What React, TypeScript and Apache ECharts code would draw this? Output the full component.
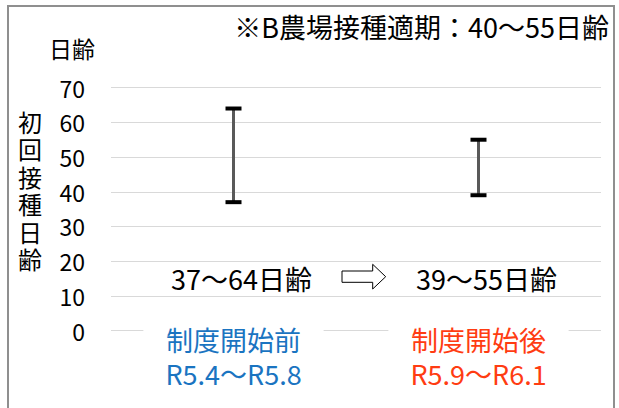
import React, { useEffect, useRef } from "react";
import * as echarts from "echarts";

// Periods compared on the x axis
const categories = ["制度開始前", "制度開始後"];
const periods = ["R5.4～R5.8", "R5.9～R6.1"];
const categoryColors = ["#1a74c1", "#ff3c12"];

// Range of first vaccination age (days) per period
const lowDays = [37, 39];
const highDays = [64, 55];

// Y axis scale
const yMin = 0;
const yMax = 70;
const yInterval = 10;

const titleText = "※B農場接種適期：40～55日齢";
const yAxisUnit = "日齢";
const yAxisTitle = "初回接種日齢";

const FONT = '"Noto Sans CJK JP", "Noto Sans", sans-serif';

export default function App() {
  const ref = useRef<HTMLDivElement>(null);

  useEffect(() => {
    document.body.style.margin = "0";
    if (!ref.current) return;
    const chart = echarts.init(ref.current, undefined, { renderer: "svg" });

    const rich: Record<string, any> = {};
    categoryColors.forEach((c, i) => {
      rich["c" + i] = { color: c, fontSize: 27, lineHeight: 34, fontFamily: FONT };
    });

    // vertical axis title, one glyph per line
    const titleChars = yAxisTitle.split("").map((ch, k) => ({
      type: "text",
      x: 30,
      y: 121 + k * 27.5,
      style: {
        text: ch,
        fontSize: 24,
        fill: "#000",
        align: "center",
        verticalAlign: "middle",
        fontFamily: FONT,
      },
    }));

    chart.setOption({
      animation: false,
      backgroundColor: "#ffffff",
      textStyle: { fontFamily: FONT },
      title: {
        text: titleText,
        right: 5,
        top: 8,
        textStyle: { fontSize: 27, fontWeight: "normal", color: "#000", fontFamily: FONT },
      },
      grid: { left: 111, right: 18, top: 87.7, bottom: 77.5, containLabel: false },
      xAxis: {
        type: "category",
        data: categories,
        z: 5,
        axisLine: { show: false },
        axisTick: { show: false },
        splitLine: { show: false },
        axisLabel: {
          margin: -8,
          interval: 0,
          backgroundColor: "#ffffff",
          padding: [0, 22],
          formatter: (value: string, index: number) =>
            `{c${index}|${value}}\n{c${index}|${periods[index]}}`,
          rich,
        },
      },
      yAxis: {
        type: "value",
        min: yMin,
        max: yMax,
        interval: yInterval,
        z: 0,
        name: yAxisUnit,
        nameLocation: "end",
        nameGap: 28,
        nameTextStyle: {
          fontSize: 23,
          color: "#000",
          align: "right",
          padding: [0, 16, 0, 0],
          fontFamily: FONT,
        },
        axisLine: { show: false },
        axisTick: { show: false },
        axisLabel: { fontSize: 23, color: "#000", margin: 26, fontFamily: FONT },
        splitLine: { lineStyle: { color: "#d9d9d9", width: 1 } },
      },
      graphic: [
        {
          type: "rect",
          z: -10,
          shape: { x: 8, y: 6, width: 606, height: 420 },
          style: { fill: "none", stroke: "#8f8f8f", lineWidth: 2 },
        },
        ...titleChars,
        {
          // hollow arrow between the two ranges
          type: "polygon",
          shape: {
            points: [
              [342, 271],
              [372.7, 271],
              [372.7, 264.3],
              [385.7, 276.7],
              [372.7, 289],
              [372.7, 282.3],
              [342, 282.3],
            ],
          },
          style: { fill: "#fff", stroke: "#000", lineWidth: 1 },
        },
      ],
      series: [
        {
          type: "custom",
          data: categories.map((_, i) => [i, lowDays[i], highDays[i]]),
          encode: { x: 0, y: [1, 2] },
          renderItem: (params: any, api: any) => {
            const i = api.value(0);
            const lo = api.value(1);
            const hi = api.value(2);
            const pLo = api.coord([i, lo]);
            const pHi = api.coord([i, hi]);
            const pBase = api.coord([i, 0]);
            const capW = 16;
            const capH = 4;
            return {
              type: "group",
              children: [
                {
                  type: "line",
                  shape: { x1: pLo[0], y1: pLo[1], x2: pHi[0], y2: pHi[1] },
                  style: { stroke: "#595959", lineWidth: 3 },
                },
                {
                  type: "rect",
                  shape: { x: pHi[0] - capW / 2, y: pHi[1] - capH / 2, width: capW, height: capH },
                  style: { fill: "#000" },
                },
                {
                  type: "rect",
                  shape: { x: pLo[0] - capW / 2, y: pLo[1] - capH / 2, width: capW, height: capH },
                  style: { fill: "#000" },
                },
                {
                  type: "text",
                  x: pLo[0] + 8,
                  y: pBase[1] - 52,
                  style: {
                    text: `${lo}～${hi}日齢`,
                    fontSize: 27,
                    fill: "#000",
                    align: "center",
                    verticalAlign: "middle",
                    fontFamily: FONT,
                  },
                },
              ],
            };
          },
        },
      ],
    });

    return () => chart.dispose();
  }, []);

  return <div ref={ref} style={{ width: 619, height: 408 }} />;
}
